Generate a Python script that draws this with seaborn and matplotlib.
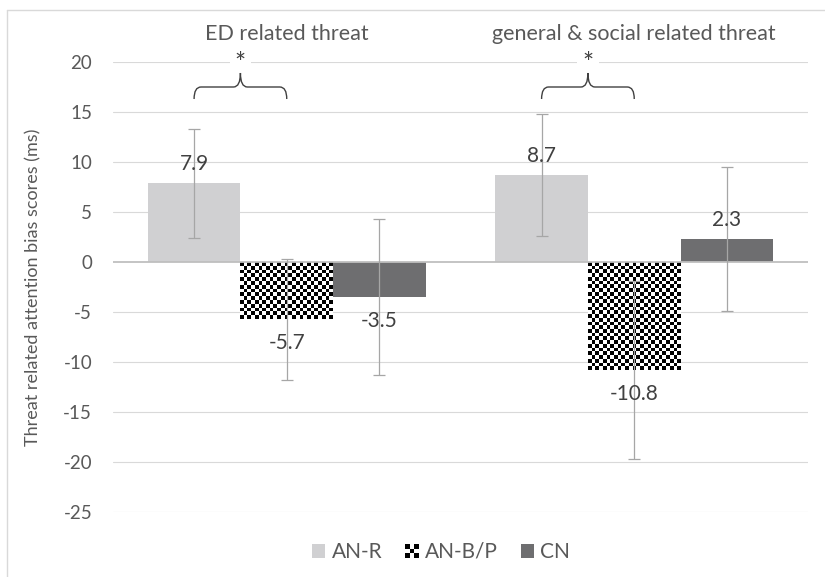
import numpy as np
import pandas as pd
import matplotlib
matplotlib.use("Agg")
import matplotlib.pyplot as plt
import seaborn as sns
from matplotlib.patches import Rectangle, Patch, PathPatch
from matplotlib.path import Path
from matplotlib.lines import Line2D
from matplotlib.legend_handler import HandlerBase

# ---- data ----
categories = ["ED related threat", "general & social related threat"]
groups = ["AN-R", "AN-B/P", "CN"]
an_r = [7.9, 8.7]
an_bp = [-5.7, -10.8]
cn = [-3.5, 2.3]
err_an_r = [5.45, 6.1]
err_an_bp = [6.05, 8.9]
err_cn = [7.8, 7.2]
yticks = [-25, -20, -15, -10, -5, 0, 5, 10, 15, 20]
sig_label = "*"

values = {"AN-R": an_r, "AN-B/P": an_bp, "CN": cn}
errors = {"AN-R": err_an_r, "AN-B/P": err_an_bp, "CN": err_cn}
rows = []
for g in groups:
    for c, v in zip(categories, values[g]):
        rows.append({"category": c, "group": g, "value": v})
df = pd.DataFrame(rows)

sns.set_theme(style="white")
plt.rcParams["font.family"] = ["Lato", "DejaVu Sans"]
TXT = "#595959"

fig = plt.figure(figsize=(8.25, 5.77), dpi=100)
W, H = 825, 577
ax = fig.add_axes([113 / W, 1 - 512 / H, (808 - 113) / W, (512 - 62) / H])

palette = {"AN-R": "#d0d0d2", "AN-B/P": "#ffffff", "CN": "#6e6e70"}
sns.barplot(data=df, x="category", y="value", hue="group", order=categories,
            hue_order=groups, palette=palette, errorbar=None, linewidth=0,
            saturation=1, legend=False, ax=ax)

ax.set_ylim(-25, 20)
ax.set_xlim(-0.5, 1.5)
ax.set_yticks(yticks)
ax.set_yticklabels([str(t) for t in yticks], color=TXT, fontsize=13.5)
ax.tick_params(axis="y", length=0, pad=15)
ax.tick_params(axis="x", length=0)
ax.set_xticks([])
ax.set_xlabel("")
for s in ax.spines.values():
    s.set_visible(False)
for t in yticks:
    if t != 0:
        ax.axhline(t, color="#d9d9d9", lw=0.8, zorder=0)
ax.axhline(0, color="#bfbfbf", lw=1.3, zorder=2.5)
ax.set_ylabel("Threat related attention bias scores (ms)", color=TXT, fontsize=13)
ax.yaxis.set_label_coords((41 - 113) / 695, 0.5)

# pixel scale
ppx = 695 / 2.0   # pixels per x data unit
ppy = 450 / 45.0  # pixels per y data unit
cell = 3.75

# checkerboard for AN-B/P bars
for patch in ax.containers[1]:
    x0 = patch.get_x(); w = patch.get_width()
    y0 = patch.get_y(); h = patch.get_height()
    ylo, yhi = min(y0, y0 + h), max(y0, y0 + h)
    nx = max(1, int(round(w * ppx / cell)))
    ny = max(1, int(round((yhi - ylo) * ppy / cell)))
    ii, jj = np.indices((ny, nx))
    img = ((ii + jj) % 2).astype(float)
    im = ax.imshow(img, cmap="gray", vmin=0, vmax=1, extent=(x0, x0 + w, ylo, yhi),
                   aspect="auto", interpolation="nearest", zorder=2)
    im.set_clip_path(patch)

ax.set_ylim(-25, 20)
ax.set_xlim(-0.5, 1.5)

# error bars and labels
centers = {}
for gi, g in enumerate(groups):
    cont = ax.containers[gi]
    xs = [p.get_x() + p.get_width() / 2 for p in cont]
    centers[g] = xs
    ax.errorbar(xs, values[g], yerr=errors[g], fmt="none", ecolor="#a6a6a6",
                elinewidth=0.9, capsize=4, capthick=0.9, zorder=3)
    for x, v in zip(xs, values[g]):
        off = 14 if v > 0 else -17
        ax.annotate(f"{v:.1f}", (x, v), xytext=(0, off), textcoords="offset points",
                    ha="center", va="center", fontsize=15, color="#404040", zorder=4)

# category labels on top
for i, c in enumerate(categories):
    ax.text(i, 1 + (62 - 34) / 450, c, transform=ax.get_xaxis_transform(),
            ha="center", va="center", fontsize=15.5, color=TXT)

# significance braces
for i in range(len(categories)):
    xl = centers["AN-R"][i]
    xr = centers["AN-B/P"][i]
    xm = (xl + xr) / 2
    d = 0.02
    yb, yl, yt = 17.5, 16.3, 18.9
    verts = [(xl, yl), (xl, yb), (xl + d, yb),
             (xm - d, yb), (xm, yb), (xm, yt),
             (xm, yb), (xm + d, yb),
             (xr - d, yb), (xr, yb), (xr, yl)]
    codes = [Path.MOVETO, Path.CURVE3, Path.CURVE3,
             Path.LINETO, Path.CURVE3, Path.CURVE3,
             Path.CURVE3, Path.CURVE3,
             Path.LINETO, Path.CURVE3, Path.CURVE3]
    ax.add_patch(PathPatch(Path(verts, codes), fill=False, edgecolor="#404040",
                           lw=1.0, clip_on=False, zorder=6))
    ax.text(xm, 19.7, sig_label, ha="center", va="center", fontsize=19,
            color="#404040", zorder=5,
            bbox=dict(boxstyle="square,pad=0.2", fc="white", ec="none"))


# legend with checker handle
class CheckerHandler(HandlerBase):
    def create_artists(self, legend, orig_handle, xdescent, ydescent, width,
                       height, fontsize, trans):
        arts = []
        n = 3
        s = min(width, height)
        x0 = -xdescent + (width - s) / 2
        y0 = -ydescent
        c = s / n
        arts.append(Rectangle((x0, y0), s, s, fc="white", ec="none", transform=trans))
        for a in range(n):
            for b in range(n):
                if (a + b) % 2 == 0:
                    arts.append(Rectangle((x0 + a * c, y0 + b * c), c, c, fc="black",
                                          ec="none", transform=trans))
        return arts


class CheckerProxy(object):
    pass


handles = [Patch(fc=palette["AN-R"], ec="none"), CheckerProxy(),
           Patch(fc=palette["CN"], ec="none")]
leg = fig.legend(handles, groups, handler_map={CheckerProxy: CheckerHandler()},
                 loc="center", bbox_to_anchor=(441 / W, 1 - 552 / H), ncol=3,
                 frameon=False, fontsize=15, handlelength=0.65, handleheight=0.65,
                 handletextpad=0.3, columnspacing=1.1)
for t in leg.get_texts():
    t.set_color(TXT)

# outer chart border
fig.add_artist(Line2D([7 / W, 7 / W], [0, 1 - 10 / H], transform=fig.transFigure,
                      color="#d9d9d9", lw=1))
fig.add_artist(Line2D([7 / W, 1], [1 - 10 / H, 1 - 10 / H], transform=fig.transFigure,
                      color="#d9d9d9", lw=1))

fig.savefig("out.png", dpi=100)
